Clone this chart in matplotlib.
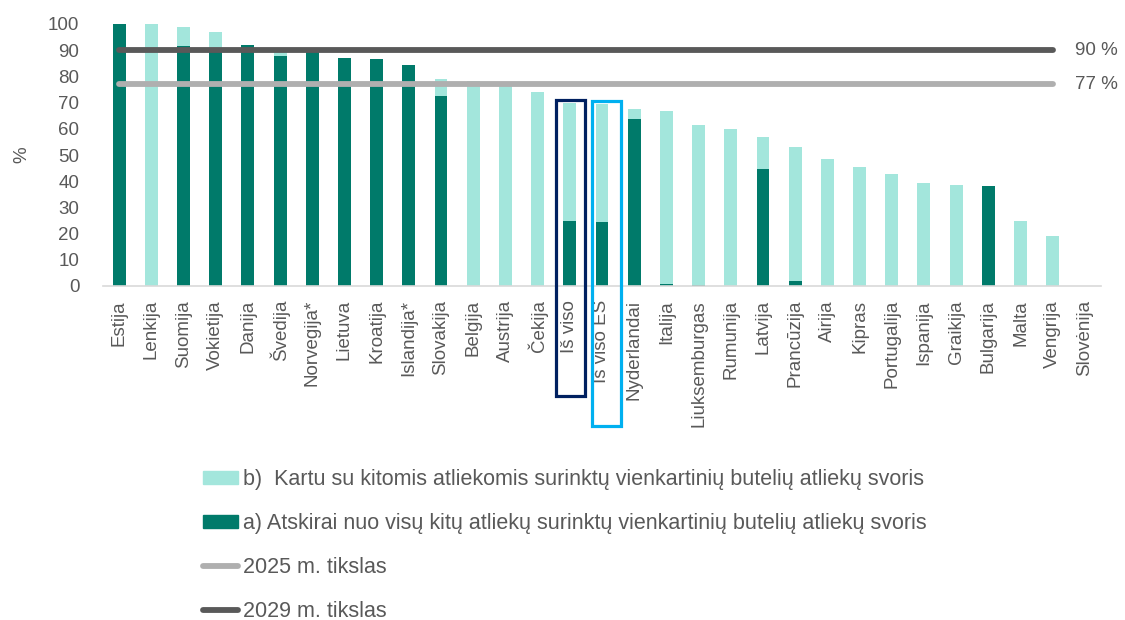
import numpy as np
import matplotlib.pyplot as plt
from matplotlib.patches import Patch, Rectangle
from matplotlib.lines import Line2D

plt.rcParams['font.family'] = ['Liberation Sans', 'DejaVu Sans']

countries = ["Estija", "Lenkija", "Suomija", "Vokietija", "Danija", "Švedija",
             "Norvegija*", "Lietuva", "Kroatija", "Islandija*", "Slovakija",
             "Belgija", "Austrija", "Čekija", "Iš viso", "Iš viso ES",
             "Nyderlandai", "Italija", "Liuksemburgas", "Rumunija", "Latvija",
             "Prancūzija", "Airija", "Kipras", "Portugalija", "Ispanija",
             "Graikija", "Bulgarija", "Malta", "Vengrija", "Slovėnija"]

# a) collected separately, b) collected together with other waste
sep_vals = [100, 0, 91.6, 90, 92, 87.6, 90.2, 86.9, 86.5, 84.2, 72.4,
            0, 0, 0, 25.0, 24.3, 63.8, 0.6, 0.3, 0, 44.6,
            1.9, 0, 0, 0, 0, 0, 38.1, 0, 0, 0]
tot_vals = [100, 99.9, 98.9, 96.9, 92, 89.7, 90.2, 86.9, 86.5, 84.2, 78.9,
            78.2, 76.8, 74.0, 69.7, 69.5, 67.5, 66.8, 61.4, 59.9, 56.8,
            53.0, 48.5, 45.5, 42.9, 39.2, 38.5, 38.1, 24.7, 18.9, 0]
mixed_vals = [t - s for t, s in zip(tot_vals, sep_vals)]

target_2025 = 77
target_2029 = 90
n_target = 30  # target lines span the first 30 categories

DARK = "#007A6A"
LIGHT = "#A3E6DC"
GRAY_TXT = "#595959"

fig = plt.figure(figsize=(11.25, 6.2), dpi=100)
ax = fig.add_axes([103 / 1125, 1 - 286 / 620, 998 / 1125, 262 / 620])

x = np.arange(len(countries))
ax.bar(x, sep_vals, width=0.4, color=DARK, zorder=2)
ax.bar(x, mixed_vals, width=0.4, bottom=sep_vals, color=LIGHT, zorder=2)

xl = np.arange(n_target)
ax.plot(xl, [target_2025] * n_target, color="#AFAFAF", lw=4.2,
        solid_capstyle="round", zorder=3, clip_on=False)
ax.plot(xl, [target_2029] * n_target, color="#595959", lw=4.2,
        solid_capstyle="round", zorder=3, clip_on=False)
ax.text(n_target - 0.3, target_2029, "90 %", color=GRAY_TXT, fontsize=13.5,
        va="center", ha="left")
ax.text(n_target - 0.3, target_2025, "77 %", color=GRAY_TXT, fontsize=13.5,
        va="center", ha="left")

# highlight boxes around the totals
i1 = countries.index("Iš viso")
i2 = countries.index("Iš viso ES")
ax.add_patch(Rectangle((i1 - 0.42, -41.8), 0.9, tot_vals[i1] + 1.3 + 41.8,
                       fill=False, ec="#002060", lw=2.3, clip_on=False, zorder=4))
ax.add_patch(Rectangle((i2 - 0.32, -53.6), 0.9, tot_vals[i2] + 1.1 + 53.6,
                       fill=False, ec="#00B0F0", lw=2.3, clip_on=False, zorder=4))

ax.set_xlim(-0.5, len(countries) - 0.5)
ax.set_ylim(0, 100)
ax.set_yticks(range(0, 101, 10))
ax.set_xticks(x)
ax.set_xticklabels(countries, rotation=90)
ax.tick_params(axis="both", length=0, labelsize=13.5, labelcolor=GRAY_TXT)
ax.tick_params(axis="y", pad=17)
ax.tick_params(axis="x", pad=10)
for s in ["top", "right", "left"]:
    ax.spines[s].set_visible(False)
ax.spines["bottom"].set_color("#D9D9D9")
ax.spines["bottom"].set_linewidth(1.2)
ax.set_ylabel("%", fontsize=13.5, color=GRAY_TXT, labelpad=13)

handles = [
    Patch(color=LIGHT, label="b)  Kartu su kitomis atliekomis surinktų vienkartinių butelių atliekų svoris"),
    Patch(color=DARK, label="a) Atskirai nuo visų kitų atliekų surinktų vienkartinių butelių atliekų svoris"),
    Line2D([], [], color="#AFAFAF", lw=4.2, solid_capstyle="round", label="2025 m. tikslas"),
    Line2D([], [], color="#595959", lw=4.2, solid_capstyle="round", label="2029 m. tikslas"),
]
fig.legend(handles=handles, loc="upper left",
           bbox_to_anchor=(203 / 1125, 1 - 469 / 620), frameon=False,
           fontsize=15.5, handlelength=1.63, handleheight=0.6,
           handletextpad=0.23, labelspacing=1.07, borderpad=0,
           borderaxespad=0, labelcolor=GRAY_TXT)

fig.savefig("out.png", dpi=100)
